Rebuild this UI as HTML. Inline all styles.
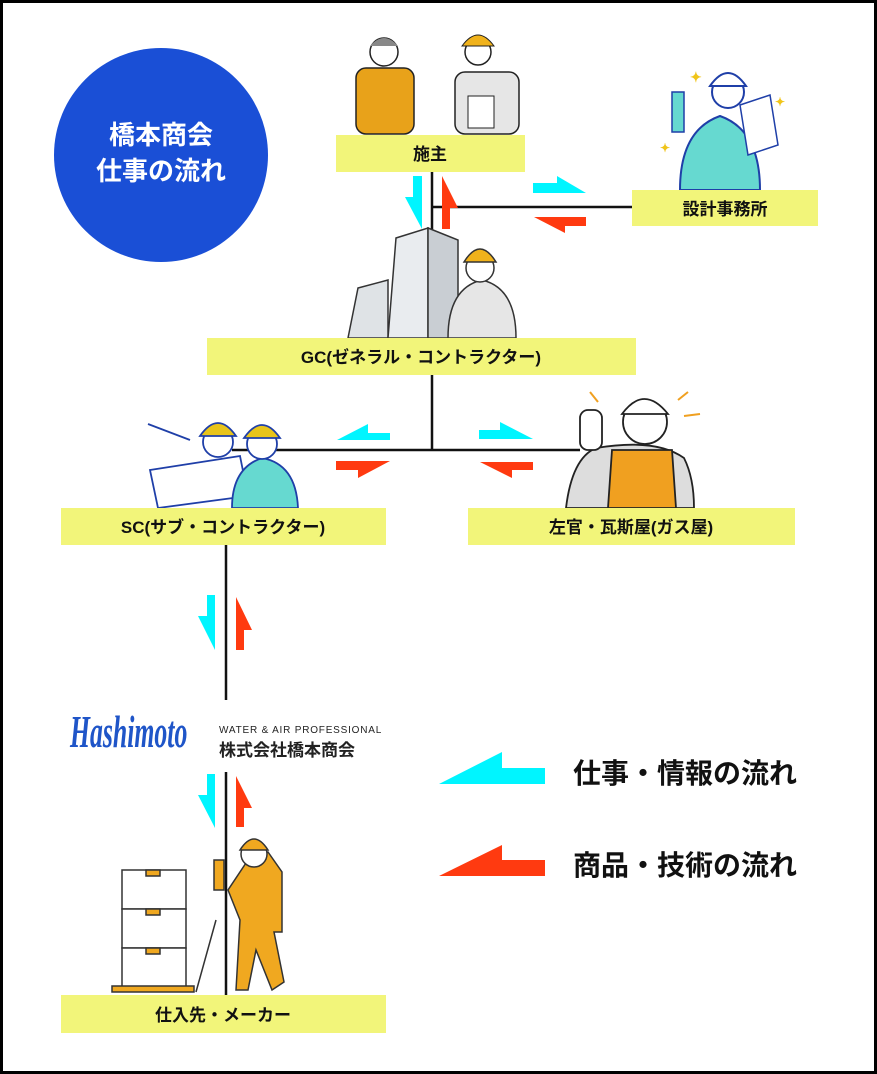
<!DOCTYPE html>
<html><head><meta charset="utf-8"><style>
html,body{margin:0;padding:0;background:#fff}
svg{display:block}
text{font-family:"Liberation Sans","Noto Sans CJK JP",sans-serif;font-weight:bold}
</style></head><body>
<svg width="877" height="1074" viewBox="0 0 877 1074" xmlns="http://www.w3.org/2000/svg">
<rect x="1.5" y="1.5" width="874" height="1071" fill="#fff" stroke="#000" stroke-width="3"/>
<g stroke="#111" stroke-width="2.5" fill="none">
<line x1="432" y1="172" x2="432" y2="240"/>
<line x1="432" y1="207" x2="632" y2="207"/>
<line x1="432" y1="375" x2="432" y2="450"/>
<line x1="232" y1="450" x2="580" y2="450"/>
<line x1="226" y1="545" x2="226" y2="700"/>
<line x1="226" y1="772" x2="226" y2="996"/>
</g>
<circle cx="161" cy="155" r="107" fill="#1a4fd6"/>
<text x="161" y="144" font-size="26" fill="#fff" text-anchor="middle">橋本商会</text>
<text x="161" y="180" font-size="26" fill="#fff" text-anchor="middle">仕事の流れ</text>
<g>
<rect x="356" y="68" width="58" height="66" rx="10" fill="#e8a21a" stroke="#222" stroke-width="1.5"/>
<circle cx="384" cy="52" r="14" fill="#fff" stroke="#222" stroke-width="1.5"/>
<path d="M370 46 q14 -16 28 0" fill="#888"/>
<rect x="455" y="72" width="64" height="62" rx="10" fill="#e6e6e6" stroke="#222" stroke-width="1.5"/>
<circle cx="478" cy="52" r="13" fill="#fff" stroke="#222" stroke-width="1.5"/>
<path d="M462 46 q16 -22 32 0 z" fill="#f0b21b" stroke="#222"/>
<rect x="468" y="96" width="26" height="32" fill="#fff" stroke="#222"/>
</g>
<g>
<path d="M680 190 q0 -60 40 -74 q40 14 40 74 z" fill="#66d9d0" stroke="#1f3fa8" stroke-width="2"/>
<circle cx="728" cy="92" r="16" fill="#fff" stroke="#1f3fa8" stroke-width="2"/>
<path d="M710 86 q18 -26 36 0 z" fill="#fff" stroke="#1f3fa8" stroke-width="2"/>
<rect x="672" y="92" width="12" height="40" fill="#66d9d0" stroke="#1f3fa8" stroke-width="1.5"/>
<path d="M740 105 l30 -10 l8 50 l-30 10 z" fill="#fff" stroke="#1f3fa8" stroke-width="1.5"/>
<text x="690" y="82" font-size="14" fill="#f0c419">✦</text>
<text x="775" y="106" font-size="12" fill="#f0c419">✦</text>
<text x="660" y="152" font-size="12" fill="#f0c419">✦</text>
</g>
<g stroke="#333" stroke-width="1.5">
<path d="M348 338 l10 -50 l30 -8 l0 58 z" fill="#dfe3e6"/>
<path d="M388 338 l8 -100 l32 -10 l0 110 z" fill="#e9ecef"/>
<path d="M428 228 l30 12 l0 98 l-30 0 z" fill="#c9ced3"/>
<path d="M448 338 q0 -50 34 -58 q34 8 34 58 z" fill="#e6e6e6"/>
<circle cx="480" cy="268" r="14" fill="#fff"/>
<path d="M464 262 q16 -26 32 0 z" fill="#f0b21b"/>
</g>
<g stroke="#1f3fa8" stroke-width="1.8">
<path d="M150 470 l90 -14 l8 40 l-90 12 z" fill="#fff"/>
<path d="M232 508 q0 -40 30 -50 q34 6 36 50 z" fill="#66d9d0"/>
<circle cx="218" cy="442" r="15" fill="#fff"/>
<path d="M200 436 q18 -26 36 0 z" fill="#e8c41a"/>
<circle cx="262" cy="444" r="15" fill="#fff"/>
<path d="M244 438 q18 -26 36 0 z" fill="#e8c41a"/>
<line x1="148" y1="424" x2="190" y2="440"/>
</g>
<g stroke="#222" stroke-width="1.8">
<path d="M566 508 q6 -50 30 -60 q60 -10 88 10 q10 20 10 50 z" fill="#ddd"/>
<path d="M608 508 l4 -58 l60 0 l4 58 z" fill="#f0a020"/>
<circle cx="645" cy="422" r="22" fill="#fff"/>
<path d="M622 414 q22 -30 46 0 z" fill="#fff"/>
<rect x="580" y="410" width="22" height="40" rx="8" fill="#fff"/>
</g>
<g stroke="#f0a020" stroke-width="2"><line x1="590" y1="392" x2="598" y2="402"/><line x1="678" y1="400" x2="688" y2="392"/><line x1="684" y1="416" x2="700" y2="414"/></g>
<g stroke="#333" stroke-width="1.5">
<rect x="122" y="870" width="64" height="39" fill="#fff"/>
<rect x="122" y="909" width="64" height="39" fill="#fff"/>
<rect x="122" y="948" width="64" height="40" fill="#fff"/>
<rect x="146" y="870" width="14" height="6" fill="#f0a820"/>
<rect x="146" y="909" width="14" height="6" fill="#f0a820"/>
<rect x="146" y="948" width="14" height="6" fill="#f0a820"/>
<rect x="112" y="986" width="82" height="6" fill="#f0a820"/>
<line x1="196" y1="992" x2="216" y2="920"/>
<path d="M236 990 l4 -70 l-12 -30 l20 -30 l20 -8 l14 20 l0 60 l-8 0 l10 50 l-12 8 l-16 -40 l-8 40 z" fill="#f0a820"/>
<circle cx="254" cy="854" r="13" fill="#fff"/>
<path d="M240 850 q14 -22 28 0 z" fill="#f0a820"/>
<rect x="214" y="860" width="10" height="30" fill="#f0a820"/>
</g>
<g fill="#f2f57a">
<rect x="336" y="135" width="189" height="37"/>
<rect x="632" y="190" width="186" height="36"/>
<rect x="207" y="338" width="429" height="37"/>
<rect x="61" y="508" width="325" height="37"/>
<rect x="468" y="508" width="327" height="37"/>
<rect x="61" y="995" width="325" height="38"/>
</g>
<g font-size="17" fill="#111" text-anchor="middle">
<text x="430" y="160">施主</text>
<text x="725" y="215">設計事務所</text>
<text x="421" y="363">GC(ゼネラル・コントラクター)</text>
<text x="223" y="533">SC(サブ・コントラクター)</text>
<text x="631" y="533">左官・瓦斯屋(ガス屋)</text>
<text x="223" y="1021">仕入先・メーカー</text>
</g>
<g fill="#00f5ff">
<polygon points="413,176 422,176 422,229 405,197 413,197"/>
<polygon points="533,183 557,183 557,176 586,193 533,193"/>
<polygon points="337,440 368,424 368,433 390,433 390,440"/>
<polygon points="479,430 500,430 500,422 533,439 479,439"/>
<polygon points="207,595 215,595 215,650 198,616 207,616"/>
<polygon points="207,774 215,774 215,828 198,795 207,795"/>
<polygon points="439,784 502,752 502,768 545,768 545,784"/>
</g>
<g fill="#ff3a10">
<polygon points="442,176 458,208 450,208 450,229 442,229"/>
<polygon points="534,217 586,217 586,226 565,226 565,233"/>
<polygon points="336,461 390,461 358,478 358,470 336,470"/>
<polygon points="480,462 533,462 533,470 512,470 512,478"/>
<polygon points="236,597 252,630 244,630 244,650 236,650"/>
<polygon points="236,776 252,808 244,808 244,827 236,827"/>
<polygon points="439,876 502,845 502,860 545,860 545,876"/>
</g>
<text x="70" y="747" font-size="46" fill="#1f55c8" font-style="italic" transform="translate(70 0) scale(0.56 1) translate(-70 0)" style="font-family:'Liberation Serif',serif;font-weight:bold">Hashimoto</text>
<text x="219" y="733" font-size="10" fill="#222" style="font-weight:normal" letter-spacing="0.8">WATER &amp; AIR PROFESSIONAL</text>
<text x="219" y="756" font-size="17" fill="#222">株式会社橋本商会</text>
<text x="573" y="783" font-size="28" fill="#111">仕事・情報の流れ</text>
<text x="573" y="875" font-size="28" fill="#111">商品・技術の流れ</text>
</svg>
</body></html>
